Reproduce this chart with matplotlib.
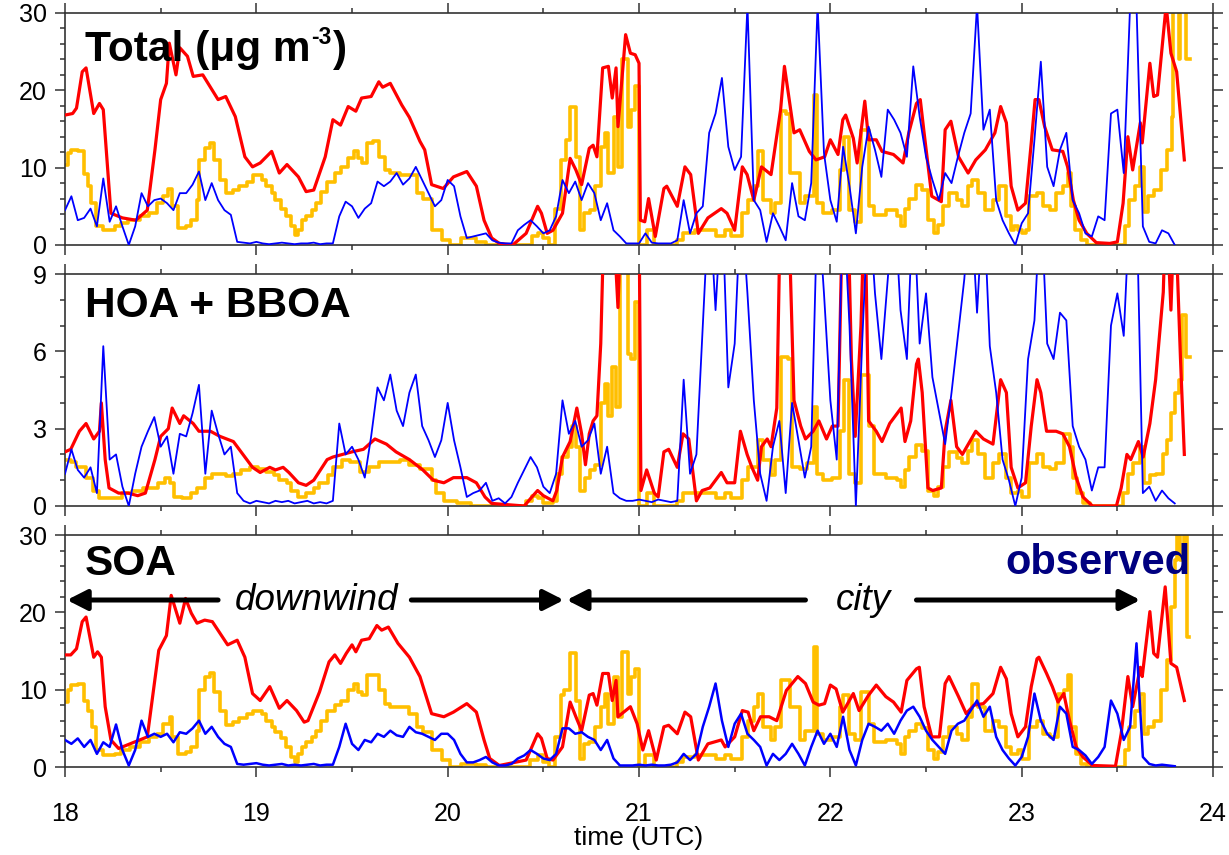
import numpy as np
import matplotlib
matplotlib.use("Agg")
import matplotlib.pyplot as plt
from matplotlib.ticker import MultipleLocator
from matplotlib.patches import ArrowStyle

plt.rcParams['font.family'] = ['Liberation Sans', 'DejaVu Sans']

# ---------------- Panel 1: Total ----------------
t1_red = [18.00, 18.04, 18.06, 18.09, 18.11, 18.15, 18.18, 18.20, 18.24, 18.30, 18.37, 18.43, 18.47, 18.50,
          18.53, 18.545, 18.58, 18.60, 18.64, 18.67, 18.72, 18.80, 18.84, 18.89, 18.94, 18.98, 19.02, 19.08,
          19.12, 19.16, 19.22, 19.26, 19.30, 19.36, 19.40, 19.44, 19.48, 19.52, 19.55, 19.60, 19.64, 19.66,
          19.70, 19.76, 19.80, 19.855, 19.88, 19.916, 19.977, 20.03, 20.10, 20.15, 20.19, 20.23, 20.27, 20.34,
          20.41, 20.47, 20.49, 20.52, 20.55, 20.60, 20.64, 20.67, 20.70, 20.74, 20.76, 20.78, 20.81, 20.84,
          20.86, 20.88, 20.89, 20.93, 20.955, 20.98, 21.00, 21.007, 21.03, 21.05, 21.085, 21.13, 21.145, 21.20,
          21.24, 21.27, 21.31, 21.36, 21.43, 21.46, 21.50, 21.54, 21.565, 21.60, 21.64, 21.69, 21.74, 21.76,
          21.81, 21.84, 21.89, 21.925, 21.97, 22.00, 22.04, 22.065, 22.08, 22.12, 22.14, 22.18, 22.20, 22.24,
          22.27, 22.33, 22.38, 22.41, 22.45, 22.47, 22.49, 22.53, 22.58, 22.60, 22.63, 22.67, 22.72, 22.76,
          22.81, 22.86, 22.89, 22.92, 22.945, 22.98, 23.02, 23.05, 23.07, 23.09, 23.12, 23.16, 23.215, 23.24,
          23.27, 23.30, 23.34, 23.39, 23.46, 23.50, 23.53, 23.555, 23.58, 23.62, 23.63, 23.67, 23.69, 23.71,
          23.755, 23.78, 23.81, 23.85]
v1_red = [16.8, 17.0, 17.7, 22.4, 22.9, 17.0, 18.3, 17.5, 4.1, 3.5, 3.2, 4.5, 12.3, 18.8,
          20.9, 26.1, 22.0, 25.5, 24.4, 21.8, 22.0, 18.8, 19.2, 16.6, 11.4, 10.1, 10.6, 12.1,
          9.3, 10.4, 8.8, 6.9, 7.1, 11.4, 16.2, 15.5, 17.9, 17.3, 19.0, 19.2, 21.1, 20.4,
          20.9, 18.1, 16.5, 13.4, 12.3, 7.8, 7.3, 8.8, 9.5, 7.6, 3.2, 0.9, 0.2, 0.0,
          1.5, 5.0, 4.1, 1.5, 1.9, 4.1, 11.2, 9.7, 7.8, 12.5, 12.9, 11.4, 22.9, 23.1,
          19.0, 22.9, 15.3, 27.2, 24.8, 24.6, 23.5, 3.2, 3.0, 6.0, 1.1, 7.3, 7.6, 5.0,
          10.1, 9.1, 1.5, 3.5, 4.7, 4.1, 1.9, 10.1, 9.1, 5.8, 10.1, 9.1, 17.5, 23.1,
          14.5, 14.9, 12.1, 11.0, 11.4, 13.6, 11.7, 16.2, 16.8, 13.8, 10.6, 18.6, 13.6, 13.6,
          12.1, 11.7, 10.6, 14.5, 18.3, 18.8, 14.5, 6.3, 5.6, 14.9, 16.0, 11.4, 9.3, 11.0,
          12.3, 14.5, 17.9, 15.8, 7.6, 4.5, 5.4, 13.2, 18.8, 18.8, 15.3, 12.3, 12.1, 10.1,
          5.8, 3.2, 1.5, 0.3, 0.2, 0.4, 5.4, 14.0, 9.7, 15.8, 13.2, 23.5, 19.2, 19.4,
          31.0, 24.8, 22.4, 11.0]

t1_yel = [18.00, 18.015, 18.03, 18.066, 18.10, 18.12, 18.136, 18.16, 18.20, 18.26, 18.29, 18.33, 18.39, 18.44,
          18.48, 18.51, 18.54, 18.56, 18.59, 18.63, 18.66, 18.69, 18.70, 18.73, 18.76, 18.78, 18.81, 18.84,
          18.88, 18.91, 18.95, 18.98, 19.03, 19.05, 19.08, 19.10, 19.13, 19.155, 19.18, 19.20, 19.22, 19.24,
          19.26, 19.29, 19.31, 19.34, 19.37, 19.41, 19.44, 19.48, 19.51, 19.53, 19.55, 19.58, 19.61, 19.64,
          19.67, 19.70, 19.75, 19.80, 19.84, 19.87, 19.916, 19.97, 20.01, 20.07, 20.15, 20.20, 20.44, 20.47,
          20.50, 20.53, 20.56, 20.59, 20.62, 20.64, 20.67, 20.69, 20.71, 20.745, 20.77, 20.80, 20.82, 20.84,
          20.87, 20.89, 20.91, 20.94, 20.96, 20.98, 21.00, 21.04, 21.08, 21.20, 21.23, 21.29, 21.40, 21.45,
          21.48, 21.54, 21.57, 21.60, 21.62, 21.65, 21.69, 21.71, 21.74, 21.77, 21.79, 21.84, 21.87, 21.915,
          21.93, 21.96, 22.01, 22.05, 22.07, 22.10, 22.13, 22.16, 22.20, 22.23, 22.29, 22.35, 22.37, 22.39,
          22.41, 22.45, 22.48, 22.51, 22.54, 22.56, 22.59, 22.62, 22.66, 22.69, 22.72, 22.74, 22.77, 22.81,
          22.85, 22.88, 22.92, 22.945, 22.96, 22.98, 23.00, 23.02, 23.04, 23.08, 23.11, 23.15, 23.18, 23.215,
          23.24, 23.26, 23.28, 23.31, 23.34, 23.54, 23.56, 23.59, 23.62, 23.64, 23.66, 23.69, 23.73, 23.76,
          23.785, 23.79, 23.81, 23.82, 23.83, 23.86, 23.88]
v1_yel = [10.4, 11.9, 12.3, 12.1, 9.2, 7.6, 5.4, 2.4, 1.9, 2.4, 2.8, 3.2, 3.7, 4.1,
          5.4, 6.3, 7.3, 5.0, 2.2, 2.4, 3.2, 5.8, 11.0, 12.5, 13.2, 11.0, 8.4, 6.7,
          7.1, 7.6, 8.2, 9.1, 8.4, 7.6, 6.7, 5.8, 4.7, 3.7, 2.4, 1.3, 1.9, 3.2,
          3.7, 4.5, 5.4, 6.9, 8.2, 9.3, 10.1, 11.2, 12.1, 11.2, 10.6, 13.2, 13.4, 11.4,
          9.7, 9.3, 9.1, 9.1, 6.7, 6.0, 1.9, 0.6, 0.0, 0.9, 0.4, 0.0, 1.1, 1.5,
          0.9, 0.0, 4.7, 11.0, 13.6, 17.9, 11.4, 1.9, 4.1, 4.5, 7.6, 12.7, 14.5, 9.3,
          16.6, 10.1, 24.0, 15.3, 17.5, 20.5, 0.0, 1.9, 0.0, 0.6, 1.5, 1.9, 1.1, 1.9,
          1.1, 4.1, 5.8, 7.6, 12.1, 5.8, 4.1, 5.4, 17.3, 17.0, 9.3, 5.4, 6.3, 19.4,
          5.4, 4.1, 4.5, 9.7, 14.0, 4.5, 3.0, 14.9, 5.0, 3.9, 4.5, 3.7, 2.4, 4.7,
          6.0, 7.8, 7.1, 3.2, 1.5, 2.6, 5.0, 6.7, 5.8, 5.0, 7.6, 8.4, 6.7, 4.5,
          5.8, 7.6, 3.7, 1.9, 2.4, 1.9, 1.5, 1.9, 6.3, 6.7, 5.0, 4.5, 6.7, 7.6,
          9.3, 5.0, 1.9, 0.6, 0.0, 2.4, 5.8, 7.6, 10.1, 4.3, 6.3, 7.1, 9.7, 12.3,
          16.6, 31.0, 31.0, 24.0, 31.0, 24.0, 24.0]

# observed, 2-minute samples starting 18:00
obs1 = [4.5, 6.3, 3.2, 3.5, 4.7, 2.4, 8.6, 3.0, 5.0, 2.4,
        0.0, 2.4, 6.7, 5.0, 5.8, 6.0, 5.4, 4.5, 6.7, 6.7,
        7.8, 9.5, 5.8, 8.0, 5.8, 4.5, 3.9, 0.4,
        0.3, 0.2, 0.4, 0.2, 0.1, 0.2, 0.3, 0.2, 0.1, 0.2, 0.2, 0.3, 0.1, 0.2, 0.2,
        3.7, 5.6, 5.0, 3.5, 4.7, 5.4, 8.2, 7.6, 8.2, 9.3, 7.8, 8.6, 10.1,
        8.4, 6.7, 5.0, 5.8,
        8.4, 7.6, 3.7, 0.9, 1.1, 1.3, 1.5, 0.6, 0.3, 0.2,
        0.2, 1.9, 2.6, 3.2, 2.4, 1.5, 1.9, 3.7, 8.4, 6.7,
        8.2, 5.8, 8.0, 6.7, 3.2, 5.4, 1.9, 1.1, 0.2, 0.2,
        0.2, 1.5, 0.3, 0.2, 0.2, 0.2, 0.6, 5.8, 1.5, 4.1,
        5.0, 14.5, 17.0, 21.6, 12.7, 9.7, 11.4, 31.0, 5.8, 4.5,
        0.4, 4.1, 2.4, 0.6, 8.0, 3.7, 3.2, 8.0, 31.0, 11.9,
        5.8, 3.0, 12.7, 7.6, 1.5, 10.1, 15.3, 12.3, 8.8, 17.5,
        16.2, 14.5, 11.4, 23.1, 16.6, 11.4, 8.4, 5.8, 9.3, 8.0,
        11.4, 14.5, 17.0, 31.0, 14.9, 17.5, 5.8, 3.2, 1.5, 0.0,
        2.8, 4.1, 13.6, 23.7, 10.1, 7.6, 12.3, 14.5, 5.8, 4.1,
        1.5, 1.1, 3.7, 3.2, 17.0, 17.5, 9.3, 31.0, 31.0, 2.4,
        0.4, 0.2, 1.9, 1.5, 0.0]

# ---------------- Panel 2: HOA + BBOA ----------------
t2_red = [18.00, 18.03, 18.075, 18.11, 18.15, 18.18, 18.19, 18.21, 18.23, 18.28, 18.33, 18.38, 18.42, 18.47,
          18.50, 18.54, 18.56, 18.60, 18.62, 18.67, 18.70, 18.76, 18.81, 18.88, 18.93, 18.98, 19.02, 19.07,
          19.10, 19.14, 19.17, 19.22, 19.26, 19.30, 19.37, 19.40, 19.45, 19.50, 19.56, 19.62, 19.68, 19.73,
          19.80, 19.87, 19.925, 19.98, 20.03, 20.10, 20.15, 20.195, 20.23, 20.40, 20.44, 20.47, 20.50, 20.55,
          20.57, 20.60, 20.64, 20.675, 20.70, 20.72, 20.74, 20.76, 20.78, 20.80, 20.82, 20.86, 20.89, 20.91,
          21.00, 21.01, 21.04, 21.08, 21.10, 21.13, 21.155, 21.20, 21.23, 21.26, 21.30, 21.33, 21.37, 21.43,
          21.46, 21.50, 21.53, 21.565, 21.59, 21.62, 21.64, 21.67, 21.69, 21.72, 21.74, 21.78, 21.81, 21.845,
          21.87, 21.91, 21.94, 21.98, 22.01, 22.04, 22.065, 22.09, 22.11, 22.13, 22.16, 22.18, 22.20, 22.24,
          22.27, 22.31, 22.37, 22.39, 22.42, 22.45, 22.46, 22.48, 22.51, 22.535, 22.58, 22.60, 22.63, 22.66,
          22.69, 22.76, 22.80, 22.85, 22.89, 22.92, 22.945, 22.98, 23.02, 23.05, 23.08, 23.10, 23.13, 23.18,
          23.215, 23.25, 23.285, 23.32, 23.37, 23.495, 23.52, 23.55, 23.57, 23.61, 23.635, 23.67, 23.70, 23.74,
          23.755, 23.78, 23.80, 23.83, 23.85]
v2_red = [2.1, 2.2, 2.9, 3.2, 2.6, 2.9, 4.0, 1.8, 0.7, 0.5, 0.5, 0.4, 0.5, 1.8,
          2.7, 3.0, 3.8, 3.2, 3.5, 3.2, 2.9, 2.9, 2.7, 2.5, 2.0, 1.5, 1.3, 1.5,
          1.4, 1.5, 1.3, 0.9, 0.8, 1.0, 1.8, 1.9, 2.0, 2.1, 2.2, 2.6, 2.4, 2.1,
          1.8, 1.4, 1.0, 0.9, 1.1, 1.1, 0.9, 0.35, 0.1, 0.0, 0.35, 0.6, 0.4, 0.2,
          0.6, 1.9, 2.5, 3.8, 2.8, 1.6, 2.8, 3.3, 3.5, 6.3, 12.0, 12.0, 7.7, 12.0,
          12.0, 0.6, 1.4, 0.5, 0.35, 2.1, 2.2, 1.5, 2.8, 2.6, 0.2, 0.6, 0.7, 1.3,
          0.9, 0.9, 2.9, 2.0, 1.5, 1.0, 2.3, 2.6, 2.3, 3.8, 12.0, 12.0, 4.1, 3.1,
          2.6, 2.9, 3.3, 2.6, 3.1, 3.1, 12.0, 12.0, 5.7, 2.7, 7.0, 12.0, 3.3, 2.9,
          2.5, 3.2, 3.8, 2.5, 3.3, 5.5, 5.7, 4.4, 0.7, 0.6, 0.7, 2.9, 4.1, 2.3,
          2.0, 2.9, 2.6, 2.4, 4.9, 4.4, 1.5, 0.7, 0.9, 3.1, 4.9, 4.4, 2.9, 2.9,
          2.8, 2.3, 1.1, 0.35, 0.0, 0.0, 0.7, 2.0, 1.8, 2.5, 1.9, 3.2, 4.9, 8.3,
          12.0, 7.6, 12.0, 5.7, 2.0]

t2_yel = [18.00, 18.03, 18.06, 18.11, 18.145, 18.18, 18.30, 18.35, 18.41, 18.485, 18.52, 18.55, 18.57, 18.61,
          18.66, 18.69, 18.73, 18.77, 18.84, 18.88, 18.92, 18.965, 19.01, 19.05, 19.09, 19.12, 19.16, 19.18,
          19.22, 19.26, 19.30, 19.33, 19.375, 19.40, 19.45, 19.49, 19.54, 19.59, 19.64, 19.70, 19.75, 19.80,
          19.855, 19.916, 19.94, 19.98, 20.05, 20.12, 20.41, 20.44, 20.47, 20.50, 20.55, 20.57, 20.60, 20.63,
          20.65, 20.67, 20.69, 20.72, 20.745, 20.77, 20.80, 20.82, 20.84, 20.86, 20.88, 20.90, 20.94, 20.96,
          20.98, 21.00, 21.04, 21.08, 21.20, 21.23, 21.40, 21.45, 21.48, 21.54, 21.57, 21.62, 21.65, 21.69,
          21.71, 21.74, 21.78, 21.80, 21.84, 21.88, 21.915, 21.93, 21.96, 22.01, 22.05, 22.07, 22.10, 22.13,
          22.16, 22.20, 22.23, 22.29, 22.35, 22.37, 22.39, 22.41, 22.45, 22.48, 22.51, 22.54, 22.56, 22.59,
          22.62, 22.66, 22.69, 22.72, 22.74, 22.77, 22.81, 22.85, 22.88, 22.92, 22.945, 22.98, 23.00, 23.04,
          23.08, 23.11, 23.15, 23.18, 23.22, 23.25, 23.27, 23.29, 23.32, 23.355, 23.53, 23.555, 23.58, 23.62,
          23.64, 23.67, 23.70, 23.74, 23.76, 23.78, 23.80, 23.82, 23.84, 23.86, 23.88]
v2_yel = [1.8, 1.7, 1.5, 1.1, 0.6, 0.3, 0.5, 0.6, 0.7, 0.9, 1.1, 0.9, 0.35, 0.3,
          0.5, 0.7, 1.1, 1.25, 1.15, 1.25, 1.4, 1.5, 1.45, 1.3, 1.2, 1.0, 0.9, 0.6,
          0.35, 0.5, 0.7, 0.9, 1.2, 1.5, 1.8, 1.7, 1.3, 1.5, 1.7, 1.7, 1.8, 1.6,
          1.45, 1.0, 0.5, 0.2, 0.1, 0.0, 0.2, 0.4, 0.3, 0.1, 0.2, 1.25, 1.9, 2.3,
          3.1, 2.3, 0.6, 1.1, 1.4, 1.6, 4.0, 4.75, 3.5, 5.4, 3.85, 12.0, 5.9, 5.7,
          7.9, 0.0, 0.5, 0.0, 0.2, 0.5, 0.3, 0.5, 0.3, 1.0, 1.5, 2.55, 1.8, 1.2,
          1.8, 5.8, 5.7, 1.5, 1.45, 1.65, 3.85, 1.25, 1.0, 1.1, 2.9, 4.9, 1.25, 0.9,
          5.1, 3.1, 1.25, 1.1, 1.0, 0.75, 1.4, 1.9, 2.35, 2.15, 0.6, 0.4, 0.75, 1.5,
          2.1, 1.85, 1.65, 2.15, 2.55, 2.0, 1.1, 1.65, 2.0, 1.1, 0.5, 0.6, 0.35, 1.65,
          2.0, 1.5, 1.45, 1.65, 2.8, 2.3, 1.1, 0.5, 0.1, 0.0, 0.5, 1.25, 1.65, 2.3,
          0.9, 1.2, 1.25, 2.0, 2.55, 3.6, 4.4, 4.9, 7.4, 5.8, 5.8]

obs2 = [1.25, 2.2, 1.4, 1.1, 1.5, 0.5, 6.2, 1.8, 2.0, 0.75,
        0.0, 1.25, 2.3, 2.9, 3.45, 2.3, 2.7, 1.25, 2.8, 2.7,
        3.6, 4.7, 1.25, 3.7, 2.8, 2.0, 2.3, 0.5,
        0.2, 0.1, 0.2, 0.15, 0.1, 0.2, 0.15, 0.2, 0.1, 0.15, 0.2, 0.1, 0.15, 0.1, 0.2,
        3.2, 2.0, 2.3, 1.8, 1.1, 2.7, 4.6, 4.1, 5.1, 3.7, 3.1, 4.4, 5.1,
        3.1, 2.55, 1.9, 2.55,
        4.0, 2.55, 1.5, 0.35, 0.5, 0.6, 0.9, 0.2, 0.3, 0.1,
        0.35, 0.9, 1.4, 1.9, 1.5, 0.75, 0.5, 1.25, 4.1, 2.8,
        3.3, 2.3, 2.55, 3.2, 1.25, 2.3, 0.5, 0.3, 0.2, 0.2,
        0.25, 0.2, 0.15, 0.25, 0.2, 0.15, 0.2, 4.9, 1.25, 2.0,
        7.0, 12.0, 7.6, 12.0, 4.6, 6.3, 12.0, 8.25, 4.1, 1.25,
        0.2, 2.3, 3.3, 0.5, 4.0, 2.55, 1.1, 2.3, 12.0, 8.25,
        4.1, 1.8, 12.0, 7.0, 0.0, 6.4, 12.0, 8.25, 5.7, 8.8,
        12.0, 7.6, 5.7, 12.0, 6.3, 8.25, 5.0, 3.7, 2.4, 4.4,
        6.6, 8.8, 12.0, 7.5, 12.0, 6.2, 4.4, 1.8, 1.0, 0.0,
        1.1, 5.7, 7.2, 12.0, 6.3, 5.7, 7.5, 7.2, 3.1, 2.3,
        1.8, 0.6, 1.5, 1.5, 7.0, 8.25, 6.6, 12.0, 12.0, 0.5,
        0.75, 0.2, 0.6, 0.3, 0.1]

# ---------------- Panel 3: SOA ----------------
t3_red = [18.00, 18.03, 18.06, 18.09, 18.11, 18.15, 18.17, 18.19, 18.21, 18.24, 18.28, 18.34, 18.39, 18.43,
          18.46, 18.49, 18.53, 18.555, 18.60, 18.63, 18.66, 18.69, 18.73, 18.77, 18.81, 18.85, 18.90, 18.94,
          18.98, 19.02, 19.07, 19.12, 19.16, 19.21, 19.25, 19.27, 19.33, 19.38, 19.41, 19.44, 19.47, 19.50,
          19.52, 19.55, 19.59, 19.63, 19.655, 19.69, 19.74, 19.80, 19.855, 19.916, 19.98, 20.03, 20.10, 20.15,
          20.19, 20.22, 20.27, 20.41, 20.47, 20.49, 20.52, 20.55, 20.60, 20.64, 20.67, 20.70, 20.74, 20.76,
          20.78, 20.81, 20.84, 20.86, 20.88, 20.89, 20.955, 20.99, 21.02, 21.05, 21.09, 21.13, 21.155, 21.20,
          21.24, 21.27, 21.31, 21.36, 21.43, 21.45, 21.50, 21.54, 21.57, 21.60, 21.635, 21.68, 21.72, 21.77,
          21.83, 21.87, 21.91, 21.94, 21.97, 22.00, 22.03, 22.065, 22.12, 22.15, 22.20, 22.24, 22.29, 22.33,
          22.37, 22.40, 22.45, 22.465, 22.49, 22.53, 22.57, 22.60, 22.62, 22.67, 22.71, 22.75, 22.80, 22.85,
          22.89, 22.92, 22.945, 22.98, 23.02, 23.05, 23.08, 23.09, 23.13, 23.16, 23.19, 23.22, 23.25, 23.285,
          23.32, 23.37, 23.49, 23.52, 23.555, 23.58, 23.62, 23.63, 23.67, 23.69, 23.71, 23.75, 23.78, 23.81,
          23.85]
v3_red = [14.5, 14.5, 15.3, 18.8, 19.4, 14.2, 14.9, 14.2, 7.8, 3.5, 2.4, 3.0, 3.5, 3.9,
          9.5, 15.1, 17.0, 22.2, 18.6, 21.8, 19.9, 18.6, 19.0, 18.8, 17.3, 15.8, 16.4, 14.2,
          9.5, 8.6, 10.4, 7.6, 8.6, 7.3, 5.8, 6.0, 9.7, 13.6, 14.5, 13.4, 14.7, 15.8,
          14.9, 16.4, 16.6, 18.3, 17.7, 18.1, 16.0, 14.2, 11.7, 6.9, 6.5, 7.1, 8.2, 7.1,
          3.5, 1.1, 0.2, 0.9, 4.3, 3.7, 1.1, 0.9, 2.6, 8.4, 6.5, 4.7, 9.3, 9.5,
          8.0, 12.1, 12.1, 8.6, 11.2, 6.5, 7.8, 5.6, 2.2, 4.7, 0.9, 5.2, 5.4, 4.3,
          7.1, 6.5, 0.9, 3.0, 3.5, 2.6, 3.9, 7.3, 7.1, 4.7, 6.5, 6.5, 6.0, 9.9,
          11.7, 10.8, 8.4, 8.0, 8.2, 10.6, 10.1, 7.1, 9.5, 7.3, 9.3, 10.6, 9.1, 8.4,
          7.1, 11.2, 12.7, 12.9, 7.8, 3.9, 3.9, 10.8, 11.7, 9.1, 6.9, 8.0, 8.2, 9.5,
          12.9, 11.4, 6.9, 3.9, 5.2, 10.4, 14.0, 14.2, 12.1, 10.4, 8.4, 9.5, 6.0, 2.6,
          1.3, 0.2, 0.1, 4.3, 11.7, 7.8, 12.9, 11.7, 20.1, 14.7, 14.2, 23.3, 13.4, 12.9,
          8.6]

t3_yel = [18.00, 18.015, 18.03, 18.07, 18.10, 18.12, 18.14, 18.16, 18.20, 18.26, 18.29, 18.34, 18.39, 18.44,
          18.48, 18.51, 18.55, 18.56, 18.59, 18.63, 18.66, 18.69, 18.70, 18.73, 18.76, 18.78, 18.81, 18.84,
          18.88, 18.91, 18.95, 18.98, 19.03, 19.05, 19.08, 19.10, 19.13, 19.155, 19.18, 19.20, 19.22, 19.24,
          19.26, 19.29, 19.31, 19.34, 19.37, 19.41, 19.44, 19.48, 19.51, 19.53, 19.55, 19.58, 19.61, 19.64,
          19.67, 19.70, 19.75, 19.80, 19.84, 19.87, 19.916, 19.97, 20.01, 20.07, 20.15, 20.20, 20.43, 20.47,
          20.50, 20.53, 20.56, 20.59, 20.61, 20.64, 20.67, 20.69, 20.71, 20.74, 20.77, 20.80, 20.82, 20.84,
          20.87, 20.89, 20.91, 20.94, 20.96, 20.98, 21.00, 21.03, 21.08, 21.20, 21.23, 21.29, 21.40, 21.45,
          21.48, 21.54, 21.57, 21.60, 21.62, 21.65, 21.69, 21.71, 21.74, 21.77, 21.79, 21.84, 21.87, 21.915,
          21.93, 21.96, 22.01, 22.05, 22.065, 22.10, 22.13, 22.16, 22.20, 22.23, 22.29, 22.35, 22.37, 22.39,
          22.41, 22.45, 22.48, 22.51, 22.54, 22.56, 22.59, 22.62, 22.66, 22.69, 22.72, 22.74, 22.77, 22.81,
          22.85, 22.88, 22.92, 22.945, 22.98, 23.00, 23.04, 23.08, 23.11, 23.15, 23.19, 23.22, 23.24, 23.26,
          23.285, 23.31, 23.34, 23.54, 23.56, 23.59, 23.62, 23.64, 23.66, 23.69, 23.73, 23.76, 23.78, 23.80,
          23.81, 23.83, 23.85, 23.865, 23.875]
v3_yel = [8.4, 9.9, 10.6, 10.8, 8.6, 7.3, 5.2, 2.2, 1.5, 1.7, 2.2, 2.6, 3.2, 3.9,
          4.3, 5.6, 6.5, 3.9, 1.7, 1.9, 2.6, 4.7, 9.9, 11.7, 12.1, 9.7, 7.3, 5.4,
          5.8, 6.3, 6.9, 7.3, 6.9, 6.0, 5.2, 4.5, 3.7, 2.6, 1.3, 0.6, 1.7, 2.6,
          3.2, 3.9, 4.7, 6.0, 7.3, 8.0, 8.6, 9.9, 10.8, 9.7, 9.3, 11.9, 11.9, 9.9,
          8.2, 7.8, 7.8, 6.9, 5.2, 4.5, 2.2, 0.9, 0.0, 0.4, 0.2, 0.0, 0.9, 1.5,
          0.6, 0.0, 3.9, 9.3, 9.9, 14.7, 8.6, 1.1, 3.0, 3.2, 5.2, 7.8, 9.5, 5.6,
          11.7, 6.5, 14.9, 9.5, 11.7, 12.7, 0.0, 1.5, 0.0, 0.6, 1.3, 1.5, 1.1, 1.5,
          1.1, 3.9, 6.0, 7.8, 9.5, 5.2, 3.5, 5.2, 11.2, 11.2, 7.8, 3.5, 4.7, 15.5,
          4.3, 3.5, 3.9, 7.8, 9.3, 4.3, 3.5, 9.7, 5.6, 3.2, 3.5, 3.0, 1.7, 3.9,
          4.7, 5.6, 5.0, 2.2, 1.1, 1.9, 3.9, 5.2, 4.3, 3.5, 6.5, 10.8, 7.8, 4.7,
          6.0, 5.2, 2.6, 1.7, 2.2, 1.1, 5.2, 6.0, 4.3, 3.9, 9.5, 9.9, 11.9, 5.2,
          1.7, 0.4, 0.0, 2.2, 5.2, 7.3, 9.5, 4.3, 5.2, 6.0, 9.9, 13.8, 20.7, 26.8,
          31.0, 26.8, 31.0, 16.8, 16.8]

obs3 = [3.5, 3.0, 3.7, 2.6, 3.5, 1.7, 3.2, 2.6, 5.5, 2.2,
        0.2, 2.2, 6.0, 3.9, 4.3, 3.9, 4.3, 3.2, 4.5, 4.3,
        5.0, 6.0, 4.3, 5.2, 3.9, 3.0, 2.6, 0.4,
        0.3, 0.4, 0.5, 0.3, 0.2, 0.3, 0.4, 0.2, 0.3, 0.2, 0.3, 0.4, 0.2, 0.3, 0.3,
        2.6, 5.6, 3.0, 2.2, 3.5, 3.2, 4.3, 3.9, 4.7, 4.1, 3.9, 5.2, 4.5,
        4.3, 3.9, 3.5, 4.3,
        4.3, 3.5, 1.7, 0.6, 0.6, 0.9, 1.3, 0.6, 0.2, 0.2,
        0.4, 1.1, 1.5, 2.2, 1.7, 1.1, 0.9, 1.7, 5.0, 5.0,
        4.3, 4.5, 3.9, 3.5, 2.2, 3.5, 1.1, 0.2, 0.2, 0.2,
        0.3, 0.2, 0.3, 0.2, 0.2, 0.3, 0.6, 1.7, 0.9, 1.7,
        5.2, 7.8, 10.8, 6.0, 2.6, 5.6, 6.9, 4.3, 3.5, 2.6,
        0.2, 1.7, 0.9, 1.7, 3.0, 1.7, 0.2, 2.6, 4.7, 3.0,
        4.3, 2.6, 6.5, 2.2, 0.2, 3.5, 5.6, 5.2, 4.7, 5.6,
        4.3, 6.0, 7.3, 7.8, 6.5, 4.7, 3.5, 2.6, 1.7, 4.7,
        5.6, 6.0, 7.3, 8.6, 6.5, 7.8, 3.9, 2.2, 1.1, 0.2,
        1.3, 3.9, 9.5, 6.0, 4.3, 3.5, 7.8, 6.9, 2.6, 2.2,
        1.5, 0.4, 1.3, 2.6, 8.6, 6.9, 3.5, 5.2, 16.0, 1.3,
        0.4, 0.2, 0.3, 0.2, 0.1]

panel_titles = ['Total (μg m', 'HOA + BBOA', 'SOA']
unit_exponent = '-3'
y_limits = [(0, 30), (0, 9), (0, 30)]
y_major = [10, 3, 10]
y_minor = [2, 1, 2]
x_ticks = [18, 19, 20, 21, 22, 23, 24]

RED = '#FF0000'
YEL = '#FFBF00'
BLUE = '#0000FF'

fig = plt.figure(figsize=(12.29, 8.55), dpi=100)
left, width = 0.0529, 0.9341
bottoms = [0.7135, 0.4082, 0.1029]
height = 0.2713

series = [(t1_red, v1_red, t1_yel, v1_yel, obs1),
          (t2_red, v2_red, t2_yel, v2_yel, obs2),
          (t3_red, v3_red, t3_yel, v3_yel, obs3)]
title_y = [0.793, 0.815, 0.828]
blue_lw = [1.3, 1.3, 1.8]
TITLE_FS = 30.5

axes = []
titles = []
for k in range(3):
    ax = fig.add_axes([left, bottoms[k], width, height])
    tr, vr, ty, vy, ob = series[k]
    tob = 18 + np.arange(len(ob)) * 2.0 / 60.0
    ax.plot(ty, vy, color=YEL, lw=2.6, drawstyle='steps-post', zorder=2)
    ax.plot(tr, vr, color=RED, lw=2.3, zorder=3)
    ax.plot(tob, ob, color=BLUE, lw=blue_lw[k], zorder=4)
    ax.set_xlim(18, 24)
    ax.set_ylim(*y_limits[k])
    ax.set_xticks(x_ticks)
    ax.xaxis.set_minor_locator(MultipleLocator(0.5))
    ax.yaxis.set_major_locator(MultipleLocator(y_major[k]))
    ax.yaxis.set_minor_locator(MultipleLocator(y_minor[k]))
    ax.tick_params(which='both', direction='out', top=True, right=True, colors='#333333',
                   labelcolor='black', labelsize=18, width=1.1)
    ax.tick_params(which='major', length=7, pad=6)
    ax.tick_params(which='minor', length=3.5)
    for s in ax.spines.values():
        s.set_color('#333333')
        s.set_linewidth(1.2)
    if k < 2:
        ax.tick_params(labelbottom=False)
    else:
        ax.tick_params(axis='x', which='major', pad=18)
    t = ax.text(0.0174, title_y[k], panel_titles[k], transform=ax.transAxes,
                fontsize=TITLE_FS, fontweight='bold', va='baseline', ha='left', zorder=6)
    titles.append(t)
    axes.append(ax)

# superscript "-3" and closing parenthesis of the unit in the first title
renderer = fig.canvas.get_renderer()
bb = titles[0].get_window_extent(renderer)
bx, by = axes[0].transAxes.transform((0.0174, title_y[0]))
sup = fig.text(0, 0, unit_exponent, fontsize=16.5, fontweight='bold', va='baseline', ha='left',
               transform=None)
sup.set_position((bb.x1 + 1, by + 17))
bb2 = sup.get_window_extent(renderer)
par = fig.text(0, 0, ')', fontsize=TITLE_FS, fontweight='bold', va='baseline', ha='left', transform=None)
par.set_position((bb2.x1 + 1, by))

ax3 = axes[2]
ax3.set_xlabel('time (UTC)', fontsize=19, labelpad=0)

# annotations in panel 3
arrow_y = 21.6
astyle = ArrowStyle('-|>', head_length=0.55, head_width=0.28)
arrow_segments = [(18.80, 18.01), (19.81, 20.607), (21.87, 20.622), (22.45, 23.62)]
for tail, head in arrow_segments:
    ax3.annotate('', xy=(head, arrow_y), xytext=(tail, arrow_y),
                 arrowprops=dict(arrowstyle=astyle, lw=3.6, color='black',
                                 mutation_scale=22, shrinkA=0, shrinkB=0),
                 zorder=7)
ax3.text(19.317, 20.3, 'downwind', fontsize=26.5, style='italic', ha='center', va='baseline', zorder=7)
ax3.text(22.17, 20.3, 'city', fontsize=26.5, style='italic', ha='center', va='baseline', zorder=7)
ax3.text(23.88, 25.0, 'observed', fontsize=30, fontweight='bold', color='#000080',
         ha='right', va='baseline', zorder=7)

fig.savefig('out.png', dpi=100)
